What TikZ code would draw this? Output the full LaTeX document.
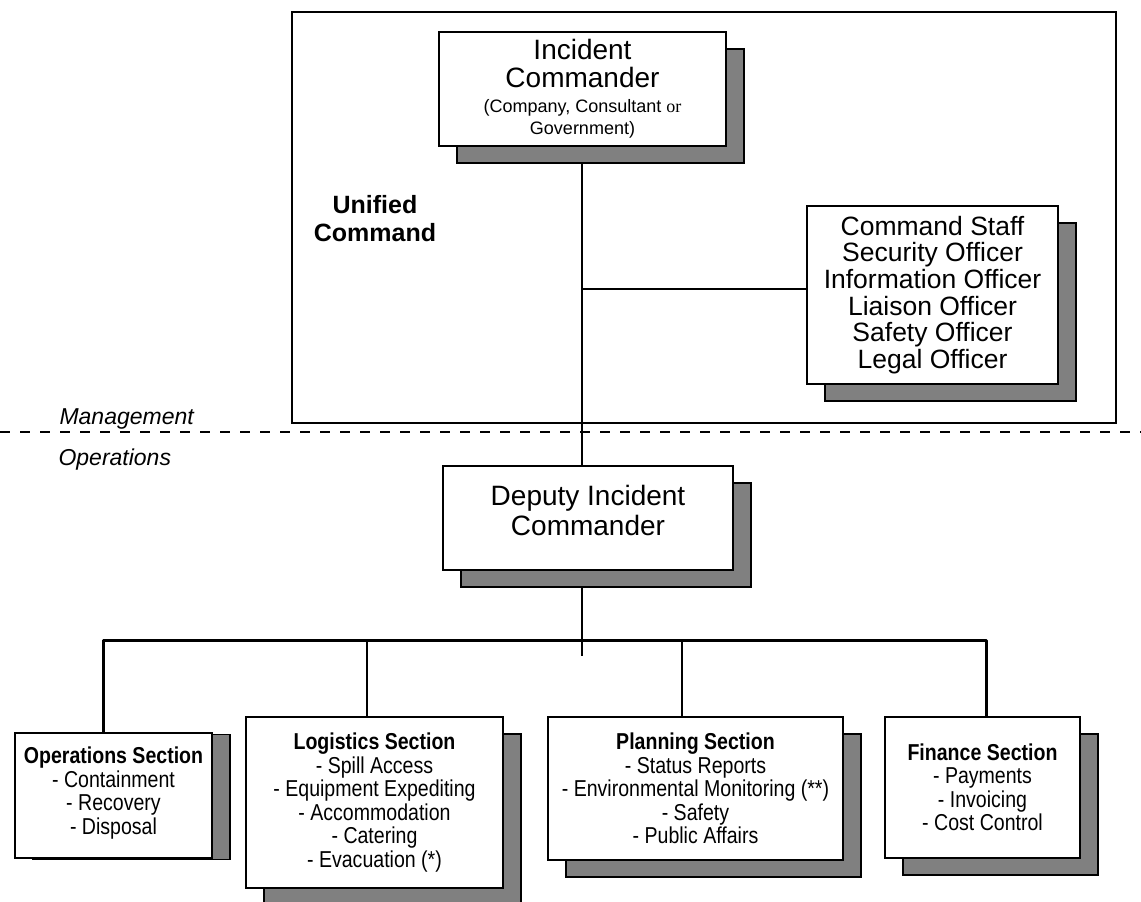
\documentclass[tikz,border=0pt]{standalone}
\usepackage{fontspec}
\setmainfont{Liberation Sans}
\newfontfamily\narrowfont{Liberation Sans}[FakeStretch=0.85]
\newfontfamily\orfont{Liberation Serif}
\usepackage{tikz}
\usetikzlibrary{positioning, shadows, backgrounds}
\definecolor{shadegray}{HTML}{808080}
\tikzset{orgbox/.style = {draw, fill=white, line width=1.6pt, align=center, inner sep=0pt,
                          general shadow={shadow xshift=18pt, shadow yshift=#1, fill=shadegray, draw=black}},
         orgbox/.default = -17pt,
         sectbox/.style = {orgbox=#1, font=\narrowfont\fontsize{23}{23.5}\selectfont},
         sectbox/.default = -17pt,
         link/.style = {line width=1.5pt},
         bus/.style = {line width=3pt, line join=round}}

\begin{document}
\begin{tikzpicture}[x=1pt, y=-1pt]
            \useasboundingbox (0, 0) rectangle (1141, 902);

            % management part
            \draw [line width=1.5pt] (292, 12) rectangle (1116, 423);
            \node [orgbox, minimum width=287, minimum height=114, font=\fontsize{28}{28}\selectfont]
                  (ic) at (582.5, 89) {Incident\\Commander\\[-3pt]
                  {\fontsize{18}{22}\selectfont (Company, Consultant {\orfont or}}\\[-6pt]
                  {\fontsize{18}{22}\selectfont Government)}};
            \node [orgbox, minimum width=251, minimum height=178, font=\fontsize{26.5}{26.6}\selectfont]
                  (staff) at (932.5, 295) {Command Staff\\Security Officer\\Information Officer\\
                  Liaison Officer\\Safety Officer\\Legal Officer};
            \node [align=center, font=\bfseries\fontsize{25}{28}\selectfont] (unified) at (375, 219) {Unified\\Command};

            \draw [line width=1.3pt, dash pattern=on 10pt off 10pt] (0, 432) -- (1141, 432);
            \node [anchor=base west, font=\itshape\fontsize{23}{23}\selectfont] (mgmt) at (56, 424) {Management};
            \node [anchor=base west, font=\itshape\fontsize{23}{23}\selectfont] (oper) at (55, 465) {Operations};

            % operations part
            \node [orgbox, minimum width=290, minimum height=104, font=\fontsize{28}{30}\selectfont]
                  (deputy) at (588, 518) {Deputy Incident\\Commander\\[-14pt]\mbox{}};

            \node [sectbox=-1.5pt, minimum width=197, minimum height=125] (ops) at (113.5, 795.5)
                  {\textbf{Operations Section}\\- Containment\\- Recovery\\- Disposal\\[-14pt]\mbox{}};
            \node [sectbox, minimum width=257, minimum height=171] (logi) at (374.5, 802.5)
                  {\textbf{Logistics Section}\\- Spill Access\\- Equipment Expediting\\- Accommodation\\- Catering\\- Evacuation (*)};
            \node [sectbox, minimum width=295, minimum height=143] (plan) at (695.5, 788.5)
                  {\textbf{Planning Section}\\- Status Reports\\- Environmental Monitoring (**)\\- Safety\\- Public Affairs};
            \node [sectbox, minimum width=195, minimum height=141] (fin) at (982.5, 787.5)
                  {\textbf{Finance Section}\\- Payments\\- Invoicing\\- Cost Control};

            \coordinate (split) at (582, 289);
            \coordinate (stub)  at (582, 656);
            \coordinate (busL)  at (103, 640);
            \coordinate (busR)  at (986, 640);
            \coordinate (tapL)  at (367, 640);
            \coordinate (tapP)  at (682, 640);

            \begin{scope}[on background layer]
                \fill [white] (0, 0) rectangle (1141, 902);
                \draw [link] (split |- ic.south) -- (split |- deputy.north);
                \draw [link] (split) -- (split -| staff.west);
                \draw [link] (split |- deputy.south) -- (stub);
                \draw [bus] (busL |- ops.north) -- (busL) -- (busR) -- (busR |- fin.north);
                \draw [link] (tapL) -- (tapL |- logi.north);
                \draw [link] (tapP) -- (tapP |- plan.north);
            \end{scope}
        \end{tikzpicture}
\end{document}
